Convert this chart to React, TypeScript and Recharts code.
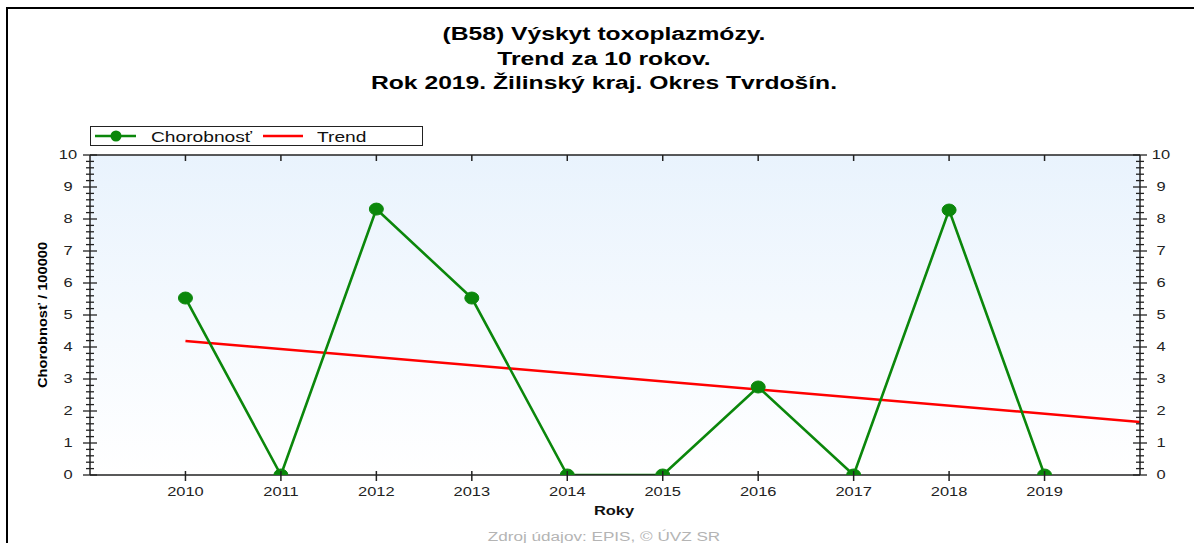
import React from 'react';
import { LineChart, Line, XAxis, YAxis, CartesianGrid } from 'recharts';

// ---- data ----
const years = [2010, 2011, 2012, 2013, 2014, 2015, 2016, 2017, 2018, 2019];
const chorobnost = [5.53, 0, 8.31, 5.53, 0, 0, 2.75, 0, 8.28, 0];
const trendYears = [2010, 2020];
const trendValues = [4.19, 1.66];
const xTickLabels = [2010, 2011, 2012, 2013, 2014, 2015, 2016, 2017, 2018, 2019];
const yTickLabels = [0, 1, 2, 3, 4, 5, 6, 7, 8, 9, 10];
const yMinorTicks = Array.from({ length: 51 }, (_, i) => i / 5);

const titleLines = [
  '(B58) Výskyt toxoplazmózy.',
  'Trend za 10 rokov.',
  'Rok 2019. Žilinský kraj. Okres Tvrdošín.',
];

const seriesData = years.map((y, i) => ({ year: y, value: chorobnost[i] }));
const trendData = trendYears.map((y, i) => ({ year: y, trend: trendValues[i] }));

const GREEN = '#0b870b';
const RED = '#ff0000';
const AX = '#222';
const FONT = '"Liberation Sans", Arial, sans-serif';
const SX = 1.37;

const isMajor = (v: number) => yTickLabels.some((t) => Math.abs(t - v) < 1e-6);

const BottomTick = (props: any) => {
  const { x, y, payload } = props;
  return (
    <g>
      <line x1={x} x2={x} y1={y - 4} y2={y + 6} stroke={AX} strokeWidth={1.5} />
      <text
        transform={`translate(${x},${y + 21}) scale(${SX},1)`}
        textAnchor="middle"
        fontSize={12}
        fontFamily={FONT}
        fill="#222"
      >
        {payload.value}
      </text>
    </g>
  );
};

const TopTick = (props: any) => {
  const { x, y } = props;
  return <line x1={x} x2={x} y1={y} y2={y + 6} stroke={AX} strokeWidth={1.5} />;
};

const LeftTick = (props: any) => {
  const { x, y, payload } = props;
  const major = isMajor(payload.value);
  const w = major ? 7 : 4;
  return (
    <g>
      <line x1={x - w} x2={x + w} y1={y} y2={y} stroke={AX} strokeWidth={1.3} />
      {major && (
        <text
          transform={`translate(${x - 22},${y + 4.3}) scale(${SX},1)`}
          textAnchor="middle"
          fontSize={12}
          fontFamily={FONT}
          fill="#222"
        >
          {Math.round(payload.value)}
        </text>
      )}
    </g>
  );
};

const RightTick = (props: any) => {
  const { x, y, payload } = props;
  const major = isMajor(payload.value);
  const w = major ? 7 : 4;
  return (
    <g>
      <line x1={x - w} x2={x + w} y1={y} y2={y} stroke={AX} strokeWidth={1.3} />
      {major && (
        <text
          transform={`translate(${x + 21},${y + 4.3}) scale(${SX},1)`}
          textAnchor="middle"
          fontSize={12}
          fontFamily={FONT}
          fill="#222"
        >
          {Math.round(payload.value)}
        </text>
      )}
    </g>
  );
};

const Marker = (props: any) => {
  const { cx, cy } = props;
  if (cx == null || cy == null) return null;
  return <ellipse cx={cx} cy={cy} rx={7} ry={6} fill={GREEN} stroke={GREEN} strokeWidth={1} />;
};

const abs = (o: React.CSSProperties): React.CSSProperties => ({ position: 'absolute', ...o });

export default function App() {
  return (
    <div
      style={{
        position: 'fixed',
        left: 0,
        top: 0,
        width: 1194,
        height: 543,
        overflow: 'hidden',
        background: '#fff',
        fontFamily: FONT,
      }}
    >
      <svg width={0} height={0} style={{ position: 'absolute' }}>
        <defs>
          <linearGradient id="plotBg" x1="0" y1="0" x2="0" y2="1">
            <stop offset="0%" stopColor="#e9f3fd" />
            <stop offset="100%" stopColor="#ffffff" />
          </linearGradient>
        </defs>
      </svg>

      {/* title */}
      <div
        style={abs({
          left: 304,
          top: 22,
          width: 600,
          textAlign: 'center',
          fontWeight: 'bold',
          fontSize: 18,
          lineHeight: '24.6px',
          color: '#000',
          transform: `scaleX(${SX})`,
          whiteSpace: 'nowrap',
        })}
      >
        {titleLines.map((t) => (
          <div key={t}>{t}</div>
        ))}
      </div>

      <div style={abs({ left: 0, top: 0 })}>
        <LineChart
          width={1194}
          height={543}
          margin={{ top: 145, right: 0, bottom: 38, left: 30 }}
        >
          <CartesianGrid
            xAxisId="b"
            yAxisId="l"
            horizontal={false}
            vertical={false}
            fill="url(#plotBg)"
            fillOpacity={1}
            stroke="none"
          />
          <XAxis
            xAxisId="b"
            dataKey="year"
            type="number"
            domain={[2009, 2020]}
            allowDataOverflow
            ticks={xTickLabels}
            interval={0}
            height={30}
            tickLine={false}
            tickSize={0}
            tickMargin={0}
            axisLine={{ stroke: AX, strokeWidth: 1.5 }}
            tick={<BottomTick />}
          />
          <XAxis
            xAxisId="t"
            dataKey="year"
            orientation="top"
            type="number"
            domain={[2009, 2020]}
            allowDataOverflow
            ticks={xTickLabels}
            interval={0}
            height={10}
            tickLine={false}
            tickSize={0}
            tickMargin={0}
            axisLine={{ stroke: AX, strokeWidth: 1.5 }}
            tick={<TopTick />}
          />
          <YAxis
            yAxisId="l"
            type="number"
            domain={[0, 10]}
            allowDataOverflow
            ticks={yMinorTicks}
            interval={0}
            width={60}
            tickLine={false}
            tickSize={0}
            tickMargin={0}
            axisLine={{ stroke: AX, strokeWidth: 1.5 }}
            tick={<LeftTick />}
          />
          <YAxis
            yAxisId="r"
            orientation="right"
            type="number"
            domain={[0, 10]}
            allowDataOverflow
            ticks={yMinorTicks}
            interval={0}
            width={54}
            tickLine={false}
            tickSize={0}
            tickMargin={0}
            axisLine={{ stroke: AX, strokeWidth: 1.5 }}
            tick={<RightTick />}
          />
          {/* invisible series so the mirror axes (top / right) get their ticks */}
          <Line
            xAxisId="t"
            yAxisId="r"
            data={seriesData}
            dataKey="value"
            stroke="none"
            strokeWidth={0}
            dot={false}
            activeDot={false}
            legendType="none"
            isAnimationActive={false}
          />
          <Line
            xAxisId="b"
            yAxisId="l"
            data={trendData}
            dataKey="trend"
            stroke={RED}
            strokeWidth={2.5}
            dot={false}
            activeDot={false}
            isAnimationActive={false}
          />
          <Line
            xAxisId="b"
            yAxisId="l"
            data={seriesData}
            dataKey="value"
            stroke={GREEN}
            strokeWidth={2.6}
            dot={<Marker />}
            activeDot={false}
            isAnimationActive={false}
          />
        </LineChart>
      </div>

      {/* legend */}
      <div
        style={abs({
          left: 90,
          top: 126,
          width: 333,
          height: 20,
          boxSizing: 'border-box',
          border: '1.5px solid #222',
          background: '#fff',
        })}
      />
      <svg width={1194} height={543} style={abs({ left: 0, top: 0, pointerEvents: 'none' })}>
        <line x1={95} x2={136} y1={136} y2={136} stroke={GREEN} strokeWidth={2.6} />
        <ellipse cx={116} cy={136} rx={5.5} ry={5.5} fill={GREEN} />
        <line x1={263} x2={303} y1={136} y2={136} stroke={RED} strokeWidth={2.6} />
      </svg>
      <div
        style={abs({ left: 151, top: 126.5, fontSize: 14, lineHeight: '20px', color: '#111', transform: `scaleX(${SX})`, transformOrigin: 'left center', whiteSpace: 'nowrap' })}
      >
        Chorobnosť
      </div>
      <div
        style={abs({ left: 317, top: 126.5, fontSize: 14, lineHeight: '20px', color: '#111', transform: `scaleX(${SX})`, transformOrigin: 'left center', whiteSpace: 'nowrap' })}
      >
        Trend
      </div>

      {/* y axis title */}
      <div
        style={abs({
          left: 43,
          top: 315,
          fontSize: 12,
          fontWeight: 'bold',
          lineHeight: '14px',
          color: '#000',
          whiteSpace: 'nowrap',
          transform: 'translate(-50%,-50%) rotate(-90deg) scaleX(1.22)',
        })}
      >
        Chorobnosť / 100000
      </div>

      {/* x axis title */}
      <div
        style={abs({
          left: 414,
          top: 503,
          width: 400,
          textAlign: 'center',
          fontSize: 12,
          fontWeight: 'bold',
          lineHeight: '16px',
          color: '#111',
          transform: `scaleX(${SX})`,
        })}
      >
        Roky
      </div>

      {/* source */}
      <div
        style={abs({
          left: 404,
          top: 529,
          width: 400,
          textAlign: 'center',
          fontSize: 12.5,
          lineHeight: '16px',
          color: '#b4b4b4',
          transform: `scaleX(${SX})`,
          whiteSpace: 'nowrap',
        })}
      >
        Zdroj údajov: EPIS, © ÚVZ SR
      </div>

      {/* outer frame (left and top edges) */}
      <div style={abs({ left: 6, top: 7, width: 2, height: 560, background: '#000', pointerEvents: 'none' })} />
      <div style={abs({ left: 6, top: 7, width: 1200, height: 2, background: '#000', pointerEvents: 'none' })} />
    </div>
  );
}
